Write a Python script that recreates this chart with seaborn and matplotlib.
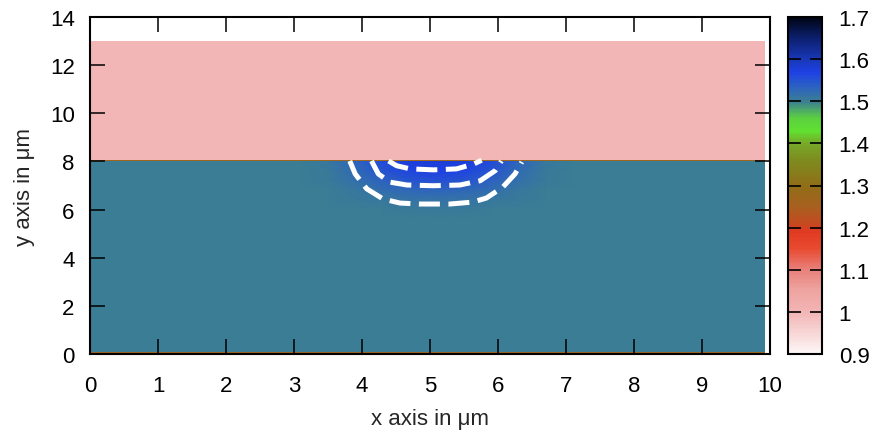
"""
Refractive index profile of a diffused channel waveguide
(gnuplot-style pm3d map redrawn with seaborn / matplotlib)
"""

import numpy as np
import matplotlib
matplotlib.use('Agg')
import matplotlib.pyplot as plt
from matplotlib.colors import LinearSegmentedColormap, Normalize
import seaborn as sns

# ============================================
# Data
# ============================================

# layered structure: y edges (um) and index of each layer
layer_edges = [0.0, 0.07, 8.0, 8.08, 13.0]
layer_index = [1.27, 1.50, 1.27, 1.00]
x_extent = [0.0, 9.93]

# diffused waveguide near the surface (index on a coarse grid)
wg_x = [3.1, 3.5, 3.9, 4.3, 4.7, 5.1, 5.5, 5.9, 6.3, 6.7, 7.1]
wg_y = [8.0, 7.6, 7.2, 6.8, 6.4, 6.0, 5.6]
wg_index = [
    [1.500, 1.508, 1.530, 1.558, 1.575, 1.580, 1.575, 1.558, 1.530, 1.508, 1.500],
    [1.500, 1.506, 1.525, 1.548, 1.565, 1.570, 1.565, 1.548, 1.525, 1.506, 1.500],
    [1.500, 1.504, 1.516, 1.533, 1.547, 1.552, 1.547, 1.533, 1.516, 1.504, 1.500],
    [1.500, 1.502, 1.509, 1.519, 1.527, 1.530, 1.527, 1.519, 1.509, 1.502, 1.500],
    [1.500, 1.501, 1.504, 1.509, 1.513, 1.515, 1.513, 1.509, 1.504, 1.501, 1.500],
    [1.500, 1.500, 1.501, 1.503, 1.505, 1.506, 1.505, 1.503, 1.501, 1.500, 1.500],
    [1.500, 1.500, 1.500, 1.500, 1.500, 1.500, 1.500, 1.500, 1.500, 1.500, 1.500],
]

# mode contours (white dashed lines)
outer_x = [3.82, 3.90, 4.07, 4.31, 4.56, 4.85, 5.07, 5.29, 5.63, 5.83, 6.07, 6.25, 6.35]
outer_y = [8.02, 7.48, 6.86, 6.44, 6.27, 6.23, 6.23, 6.23, 6.31, 6.48, 6.93, 7.48, 7.98]
middle_x = [4.14, 4.24, 4.41, 4.66, 5.05, 5.44, 5.74, 5.96, 6.05]
middle_y = [8.02, 7.48, 7.14, 7.02, 6.99, 7.02, 7.20, 7.62, 8.02]
inner_x = [4.39, 4.51, 4.71, 5.05, 5.39, 5.64, 5.76]
inner_y = [8.02, 7.82, 7.69, 7.65, 7.69, 7.89, 8.05]

cb_ticks = [0.9, 1.0, 1.1, 1.2, 1.3, 1.4, 1.5, 1.6, 1.7]
cb_labels = ['0.9', '1', '1.1', '1.2', '1.3', '1.4', '1.5', '1.6', '1.7']

# ============================================
# Colour palette (gnuplot-like)
# ============================================
vmin, vmax = 0.9, 1.7
stops = [
    (0.90, '#fdf6f6'), (1.00, '#f2b4b4'), (1.05, '#eea4a0'), (1.10, '#e8807a'),
    (1.15, '#e84a30'), (1.19, '#e03a22'), (1.21, '#c44a20'), (1.25, '#a86020'),
    (1.30, '#906e18'), (1.36, '#7e8c1e'), (1.40, '#78a828'), (1.43, '#60e030'),
    (1.46, '#5cd040'), (1.50, '#3b7f92'), (1.53, '#2e66bc'), (1.57, '#1e40e4'),
    (1.60, '#1838b8'), (1.65, '#0c2070'), (1.70, '#000515'),
]
cmap = LinearSegmentedColormap.from_list(
    'gp', [((v - vmin) / (vmax - vmin), c) for v, c in stops])
norm = Normalize(vmin=vmin, vmax=vmax)

# ============================================
# Figure
# ============================================
sns.set_style('white')
plt.rcParams['font.family'] = ['Liberation Sans', 'DejaVu Sans']

fig = plt.figure(figsize=(8.76, 4.35), dpi=100)
ax = fig.add_axes([90 / 876, 80 / 435, 680 / 876, 337 / 435])
cax = fig.add_axes([788 / 876, 80 / 435, 34 / 876, 337 / 435])

# layers
lay = np.array(layer_index).reshape(-1, 1)
ax.pcolormesh(x_extent, layer_edges, lay, cmap=cmap, norm=norm, shading='flat')

# waveguide (smooth shading between grid points)
WX, WY = np.meshgrid(wg_x, wg_y)
ax.pcolormesh(WX, WY, np.array(wg_index), cmap=cmap, norm=norm, shading='gouraud')
# interface line on top of the waveguide
ax.pcolormesh(x_extent, layer_edges[2:4], lay[2:3], cmap=cmap, norm=norm, shading='flat')

# mode contours
for cx, cy in [(outer_x, outer_y), (middle_x, middle_y), (inner_x, inner_y)]:
    sns.lineplot(x=cx, y=cy, sort=False, ax=ax, color='white', lw=3.6,
                 estimator=None)
    ax.lines[-1].set_dashes((4.2, 1.7))
    ax.lines[-1].set_dash_capstyle('butt')

ax.set_axisbelow(False)
ax.set_xlim(0, 10)
ax.set_ylim(0, 14)
ax.set_xticks(range(0, 11))
ax.set_yticks(range(0, 15, 2))
ax.tick_params(direction='in', bottom=True, left=True, top=True, right=True,
               length=11, width=1.1, labelsize=16, colors='black')
ax.tick_params(axis='x', pad=15)
ax.tick_params(axis='y', pad=11)
ax.set_xlabel('x axis in μm', fontsize=16, labelpad=9)
ax.set_ylabel('y axis in μm', fontsize=16, labelpad=11)
for s in ax.spines.values():
    s.set_visible(True)
    s.set_color('black')
    s.set_linewidth(1.5)
ax.set_facecolor('white')

# colour bar
sm = plt.cm.ScalarMappable(norm=norm, cmap=cmap)
cb = fig.colorbar(sm, cax=cax, ticks=cb_ticks)
cb.ax.set_yticklabels(cb_labels)
cax.set_axisbelow(False)
cax.tick_params(direction='in', left=True, right=True, length=9, width=1.2,
                labelsize=16, pad=12, colors='black')
cb.outline.set_linewidth(1.5)
cb.outline.set_edgecolor('black')

plt.savefig('out.png', dpi=100)
